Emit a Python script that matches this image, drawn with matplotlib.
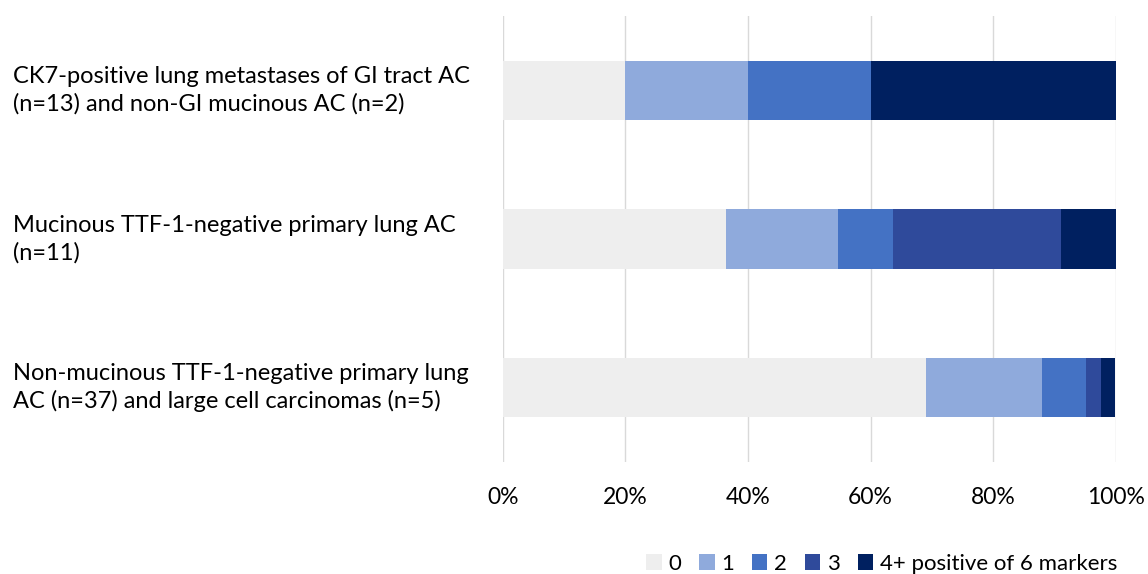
import matplotlib
matplotlib.use("Agg")
import matplotlib.pyplot as plt
import matplotlib.transforms as mtransforms
from matplotlib.ticker import PercentFormatter

categories = [
    "CK7-positive lung metastases of GI tract AC\n(n=13) and non-GI mucinous AC (n=2)",
    "Mucinous TTF-1-negative primary lung AC\n(n=11)",
    "Non-mucinous TTF-1-negative primary lung\nAC (n=37) and large cell carcinomas (n=5)",
]
series_names = ["0", "1", "2", "3", "4+ positive of 6 markers"]
# percentages per category for each series
s0 = [20.0, 36.4, 69.0]
s1 = [20.0, 18.2, 19.0]
s2 = [20.0, 9.1, 7.1]
s3 = [0.0, 27.3, 2.4]
s4 = [40.0, 9.1, 2.4]
series = [s0, s1, s2, s3, s4]
colors = ["#EEEEEE", "#8FAADC", "#4472C4", "#2F4A9B", "#002060"]
xticks = [0, 20, 40, 60, 80, 100]

plt.rcParams['font.family'] = ['Lato', 'DejaVu Sans']
fig = plt.figure(figsize=(11.48, 5.74), dpi=100)
ax = fig.add_axes([0.438, 0.195, 0.534, 0.777])

ypos = list(range(len(categories)))
left = [0.0] * len(categories)
handles = []
for name, vals, c in zip(series_names, series, colors):
    b = ax.barh(ypos, vals, left=left, height=0.4, color=c, label=name, zorder=3)
    handles.append(b)
    left = [l + v for l, v in zip(left, vals)]

ax.set_xlim(0, 100)
ax.set_ylim(2.5, -0.5)
ax.set_xticks(xticks)
ax.xaxis.set_major_formatter(PercentFormatter(decimals=0))
ax.tick_params(axis='x', length=0, labelsize=16.5, colors='#000000', pad=18)
ax.set_yticks([])
ax.grid(axis='x', color='#D9D9D9', linewidth=1, zorder=0)
for s in ax.spines.values():
    s.set_visible(False)

trans = mtransforms.blended_transform_factory(fig.transFigure, ax.transData)
for y, lab in zip(ypos, categories):
    ax.text(13 / 1148, y, lab, transform=trans, ha='left', va='center',
            fontsize=17, linespacing=1.32, multialignment='left')

fig.legend(handles=handles, labels=series_names, loc='lower center',
           bbox_to_anchor=(0.768, -0.034), ncol=5, frameon=False, fontsize=16,
           handlelength=0.7, handleheight=0.7, handletextpad=0.3, columnspacing=0.8)

fig.savefig("out.png", dpi=100)
